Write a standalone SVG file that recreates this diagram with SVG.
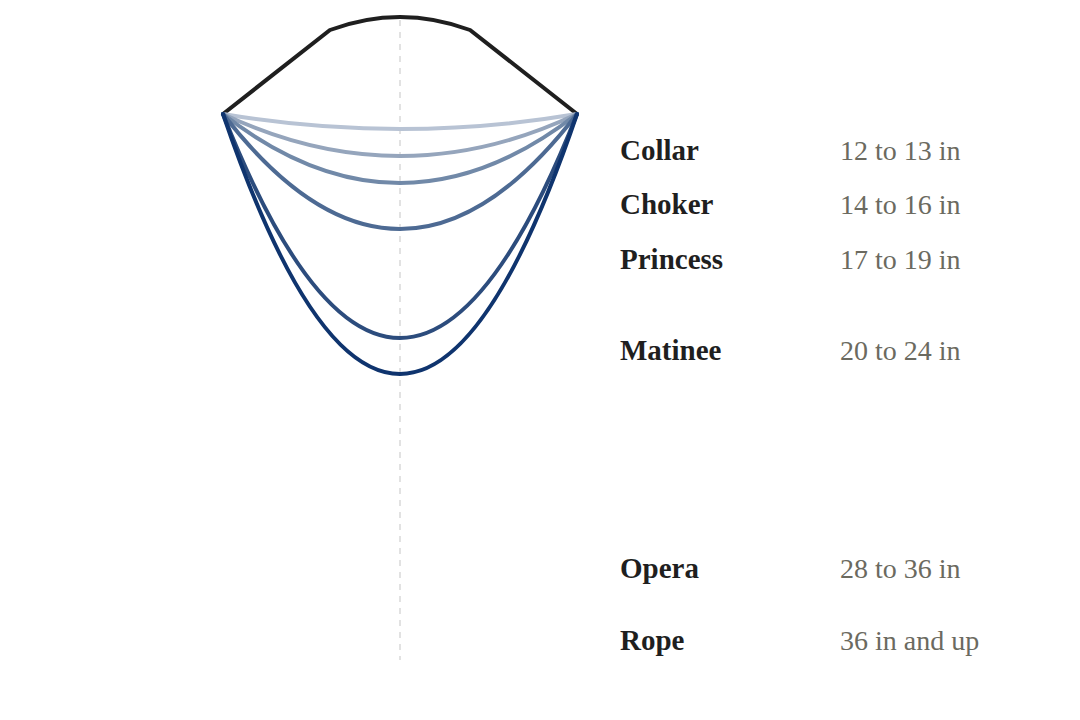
<svg xmlns="http://www.w3.org/2000/svg" width="1080" height="720" viewBox="0 0 1080 720">
<style>
.n{font-family:"Liberation Serif",serif;font-weight:bold;font-size:29px;fill:#1f1f1f}
.v{font-family:"Liberation Serif",serif;font-size:28px;fill:#6b6a60}
.c{fill:none;stroke-width:4;stroke-linecap:round}
</style>
<rect width="1080" height="720" fill="#fff"/>
<line x1="400" y1="20" x2="400" y2="660" stroke="#d9d9d9" stroke-width="1.5" stroke-dasharray="6,6"/>
<g id="connectors">
<path class="c" stroke="#1f1f1f" stroke-width="3.5" d="M223,114 L330,30 Q400,4 470,30 L577,114"/>
<path class="c" stroke="#b8c3d4" d="M223,114 Q400,144 577,114"/>
<path class="c" stroke="#95a5bc" d="M223,114 Q400,198 577,114"/>
<path class="c" stroke="#7189a8" d="M223,114 Q400,252 577,114"/>
<path class="c" stroke="#4d6a93" d="M223,114 Q400,344 577,114"/>
<path class="c" stroke="#2c4c7d" d="M223,114 Q400,562 577,114"/>
<path class="c" stroke="#0f346e" d="M223,114 Q400,634 577,114"/>
</g>
<g id="collar"><text class="n" x="620" y="160">Collar</text><text class="v" x="840" y="160">12 to 13 in</text></g>
<g id="choker"><text class="n" x="620" y="214">Choker</text><text class="v" x="840" y="214">14 to 16 in</text></g>
<g id="princess"><text class="n" x="620" y="269">Princess</text><text class="v" x="840" y="269">17 to 19 in</text></g>
<g id="matinee"><text class="n" x="620" y="360">Matinee</text><text class="v" x="840" y="360">20 to 24 in</text></g>
<g id="opera"><text class="n" x="620" y="578">Opera</text><text class="v" x="840" y="578">28 to 36 in</text></g>
<g id="rope"><text class="n" x="620" y="650">Rope</text><text class="v" x="840" y="650">36 in and up</text></g>
</svg>
